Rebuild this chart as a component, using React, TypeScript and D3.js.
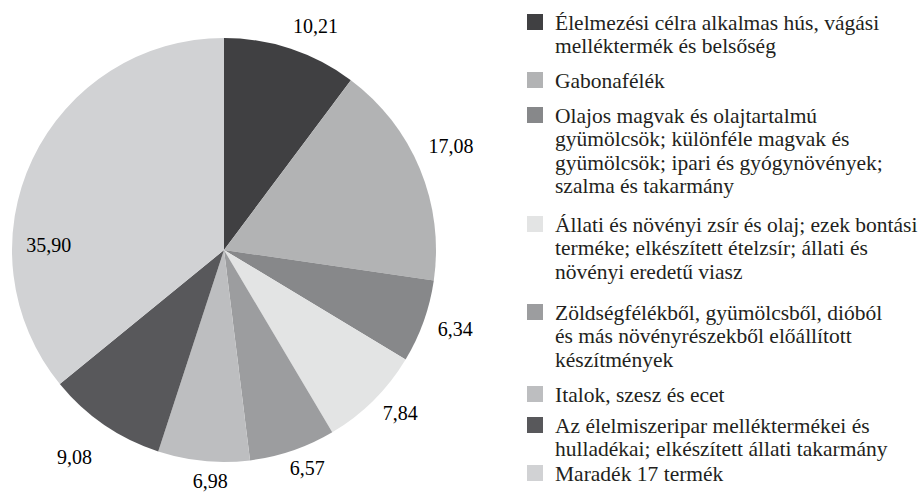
import React from "react";
import * as d3 from "d3";

const categories: string[][] = [
  ["Élelmezési célra alkalmas hús, vágási", "melléktermék és belsőség"],
  ["Gabonafélék"],
  ["Olajos magvak és olajtartalmú", "gyümölcsök; különféle magvak és", "gyümölcsök; ipari és gyógynövények;", "szalma és takarmány"],
  ["Állati és növényi zsír és olaj; ezek bontási", "terméke; elkészített ételzsír; állati és", "növényi eredetű viasz"],
  ["Zöldségfélékből, gyümölcsből, dióból", "és más növényrészekből előállított", "készítmények"],
  ["Italok, szesz és ecet"],
  ["Az élelmiszeripar melléktermékei és", "hulladékai; elkészített állati takarmány"],
  ["Maradék 17 termék"],
];
const values: number[] = [10.21, 17.08, 6.34, 7.84, 6.57, 6.98, 9.08, 35.9];
const colors: string[] = ["#404042", "#b2b3b4", "#87888a", "#e3e4e4", "#9c9d9f", "#bdbec0", "#58585b", "#d1d2d4"];
// label nudges from the outside anchor (layout)
const labelNudge: [number, number][] = [[17, 1], [9, -13], [9, 1], [10, -3], [7, -4], [9, -3], [-16, 13], [38, 97]];
const legendY: number[] = [30, 88, 123, 232, 320, 402, 433, 481];

const W = 923, H = 494;
const cx = 224, cy = 250, R = 212;
const FONT = "Liberation Serif";

export default function App() {
  const pie = d3.pie<number>().sort(null).value((d) => d);
  const arcs = pie(values);
  const arc = d3.arc<d3.PieArcDatum<number>>().innerRadius(0).outerRadius(R);
  const fmt = (v: number) => v.toFixed(2).replace(".", ",");
  const labelR = R + 24;
  const lineH = 23.3;

  return (
    <svg width={W} height={H} style={{ position: "absolute", left: 0, top: 0, background: "#fff" }}>
      <g transform={`translate(${cx},${cy})`}>
        {arcs.map((a, i) => (
          <path key={i} d={arc(a) || ""} fill={colors[i]} />
        ))}
      </g>
      {arcs.map((a, i) => {
        const th = (a.startAngle + a.endAngle) / 2;
        const x = cx + labelR * Math.sin(th) + labelNudge[i][0];
        const y = cy - 1 - labelR * Math.cos(th) + labelNudge[i][1];
        return (
          <text key={i} x={x} y={y + 7} textAnchor="middle" style={{ fontFamily: FONT, fontSize: 20 }} fill="#000">
            {fmt(values[i])}
          </text>
        );
      })}
      {categories.map((lines, i) => (
        <g key={i}>
          <rect x={527} y={legendY[i] - 16} width={16} height={16} fill={colors[i]} />
          {lines.map((l, j) => (
            <text key={j} x={555} y={legendY[i] + j * lineH} style={{ fontFamily: FONT, fontSize: 21.5 }} fill="#231f20">
              {l}
            </text>
          ))}
        </g>
      ))}
    </svg>
  );
}
